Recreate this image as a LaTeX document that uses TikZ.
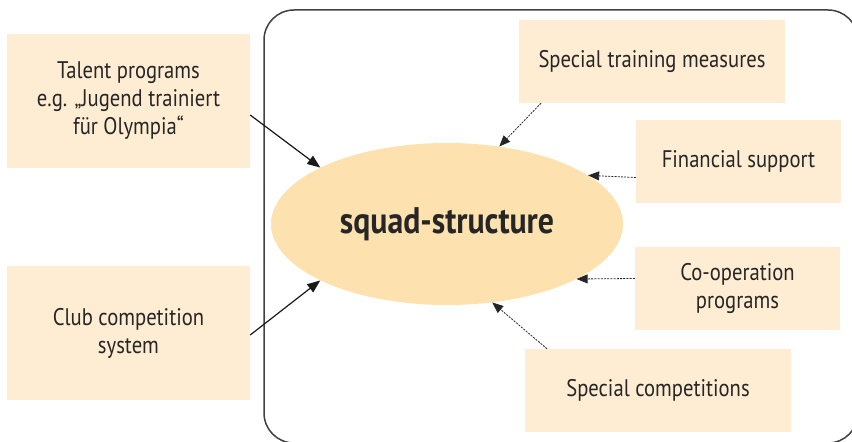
\documentclass[tikz,border=0pt]{standalone}
\usepackage{fontspec}
\setmainfont{PT Sans}[FakeStretch=0.86]
\usetikzlibrary{shapes.geometric,arrows.meta}
\definecolor{boxfill}{HTML}{FEEDD2}
\definecolor{ellfill}{HTML}{FDE1AE}
\definecolor{txt}{HTML}{262626}
\definecolor{frame}{HTML}{404040}
\begin{document}
\begin{tikzpicture}[x=1pt,y=1pt,
  infobox/.style={fill=boxfill,draw=none,minimum width=#1,text=txt,
    font=\fontsize{24}{28}\selectfont,align=center,inner sep=0pt},
  solidarrow/.style={-{Triangle[length=13pt,width=10pt]},line width=1.2pt,draw=black!90},
  dotarrow/.style={-{Triangle[length=11pt,width=9pt]},line width=0.8pt,draw=black!85,
    dash pattern=on 2pt off 1.2pt}]
\useasboundingbox (0,0) rectangle (852,442);
% outer frame
\draw[frame,line width=1.5pt,rounded corners=30pt] (264,432) rectangle (858,-1);
% central ellipse
\node[ellipse,fill=ellfill,minimum width=352pt,minimum height=162pt,inner sep=0pt,
  text=txt,font=\fontsize{37}{40}\selectfont\bfseries] (sq) at (447,218) {squad-structure};
% left boxes
\node[infobox=243pt,minimum height=134pt] (talent) at (128.5,341)
  {Talent programs\\e.g. „Jugend trainiert\\für Olympia“};
\node[infobox=243pt,minimum height=134pt] (club) at (128.5,109)
  {Club competition\\system};
% right boxes
\node[infobox=266pt,minimum height=83pt] (train) at (652,380.5) {Special training measures};
\node[infobox=205pt,minimum height=83pt] (fin) at (738.5,280.5) {Financial support};
\node[infobox=205pt,minimum height=83pt] (coop) at (737.5,153.5) {Co-operation\\programs};
\node[infobox=266pt,minimum height=83pt] (comp) at (658,51.5) {Special competitions};
% connectors
\draw[solidarrow] ([yshift=-14pt]talent.east) -- (sq.156);
\draw[solidarrow] ([yshift=-2pt]club.east) -- (sq.204);
\draw[dotarrow] ([xshift=-111pt]train.south) -- (sq.56);
\draw[dotarrow] ([yshift=-16pt]fin.west) -- (sq.19);
\draw[dotarrow] ([yshift=10pt]coop.west) -- (sq.-23);
\draw[dotarrow] ([xshift=-111pt]comp.north) -- (sq.-60);
\end{tikzpicture}
\end{document}
